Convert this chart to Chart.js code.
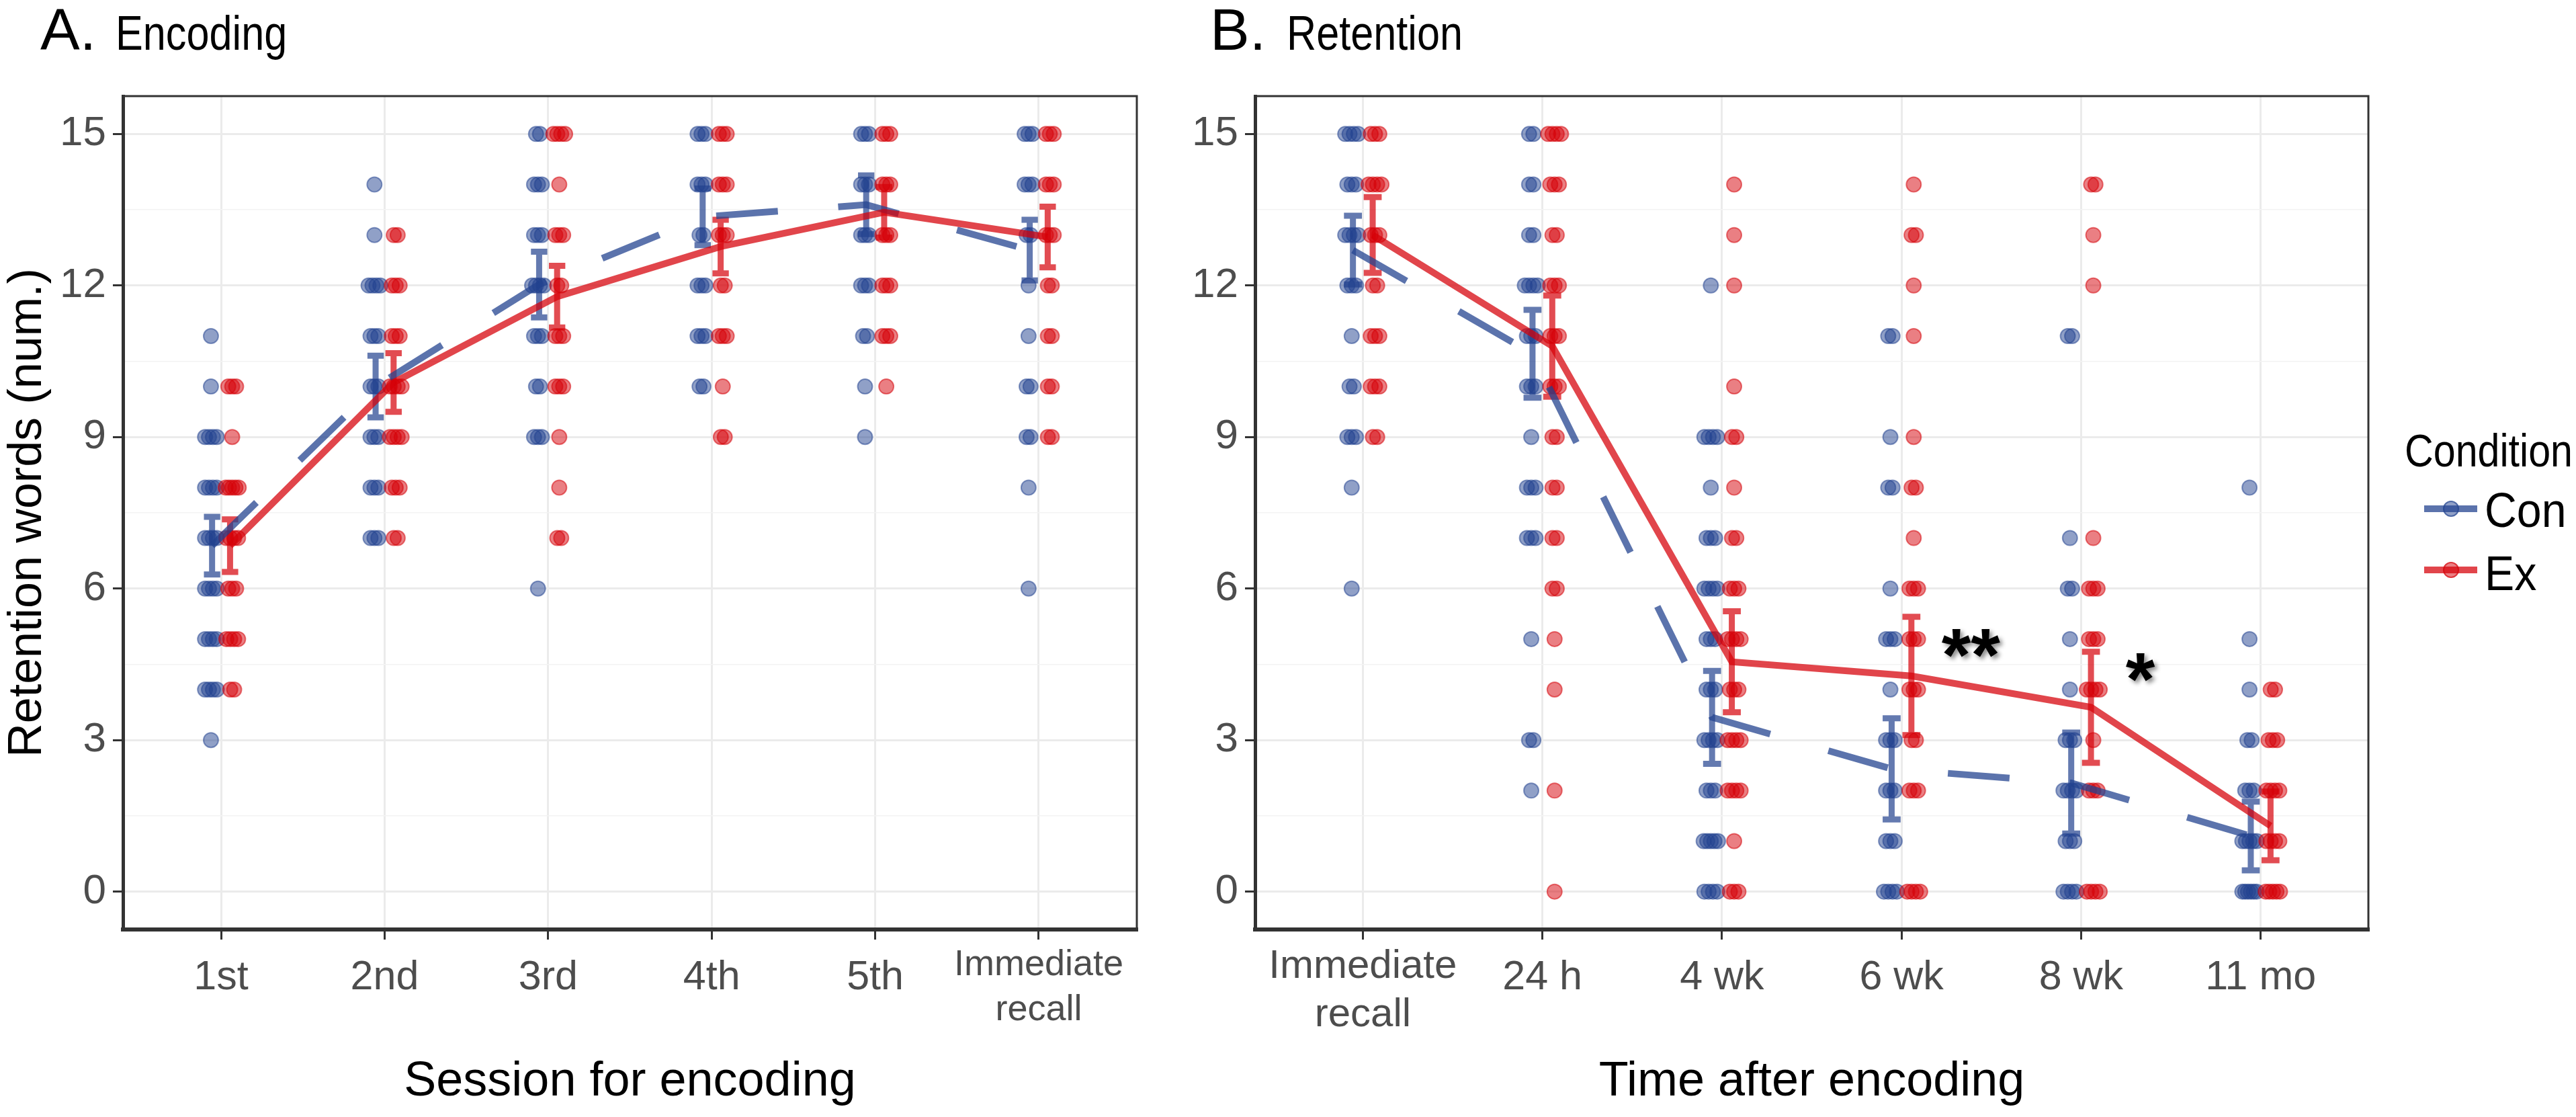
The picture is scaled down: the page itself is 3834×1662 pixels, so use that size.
<!DOCTYPE html>
<html>
<head>
<meta charset="utf-8">
<script src="https://cdn.jsdelivr.net/npm/chart.js@4.4.1/dist/chart.umd.min.js"></script>
<style>
html,body{margin:0;padding:0;background:#fff;}
body{width:3834px;height:1662px;position:relative;overflow:hidden;font-family:'Liberation Sans',Arial,Helvetica,sans-serif;}
canvas{position:absolute;top:0;}
.t{position:absolute;line-height:1;white-space:nowrap;color:#000;transform-origin:0 0;}
.key{position:absolute;}
</style>
</head>
<body>
<canvas id="cA" width="1760" height="1662" style="left:0px"></canvas>
<canvas id="cB" width="2074" height="1662" style="left:1760px"></canvas>

<div class="t" style="left:60px;top:0px;font-size:88px">A.</div>
<div class="t" style="left:172px;top:13px;font-size:72px;transform:scaleX(0.85)">Encoding</div>
<div class="t" style="left:1801px;top:0px;font-size:88px">B.</div>
<div class="t" style="left:1915px;top:13px;font-size:72px;transform:scaleX(0.85)">Retention</div>

<div class="t" style="left:3579px;top:636px;font-size:68px;transform:scaleX(0.87)">Condition</div>
<div class="key" style="left:3608px;top:752px;width:79px;height:10px;background:rgba(34,66,143,0.74)"></div>
<div class="key" style="left:3636px;top:745px;width:20px;height:20px;border-radius:50%;background:rgba(34,66,143,0.5);border:2px solid rgba(34,66,143,0.6)"></div>
<div class="t" style="left:3698px;top:723px;font-size:72px;transform:scaleX(0.92)">Con</div>
<div class="key" style="left:3608px;top:843px;width:79px;height:10px;background:rgba(214,0,8,0.73)"></div>
<div class="key" style="left:3636px;top:836px;width:20px;height:20px;border-radius:50%;background:rgba(214,0,8,0.5);border:2px solid rgba(214,0,8,0.6)"></div>
<div class="t" style="left:3698px;top:817px;font-size:72px;transform:scaleX(0.92)">Ex</div>

<script>
// ---------------- DATA ----------------
const encodingLabels = ['1st', '2nd', '3rd', '4th', '5th', ['Immediate', 'recall']];
const retentionLabels = [['Immediate', 'recall'], '24 h', '4 wk', '6 wk', '8 wk', '11 mo'];
const yTickValues = [0, 1.5, 3, 4.5, 6, 7.5, 9, 10.5, 12, 13.5, 15];

// individual scores (number of words), one list per category
const encodingCon = [
  [11,10,9,9,9,9,8,8,8,8,7,7,7,7,6,6,6,6,5,5,5,5,4,4,4,4,3],
  [14,13,12,12,12,12,11,11,11,10,10,10,9,9,9,8,8,8,7,7,7],
  [15,15,14,14,14,13,13,13,12,12,12,12,11,11,11,10,10,9,9,9,6],
  [15,15,15,14,14,14,13,13,12,12,12,11,11,11,10,10],
  [15,15,15,14,14,14,13,13,13,12,12,12,11,11,10,9],
  [15,15,15,14,14,14,13,13,12,11,10,10,9,9,8,6]
];
const encodingEx = [
  [10,10,10,9,8,8,8,8,8,7,7,7,7,6,6,6,5,5,5,5,4,4],
  [13,13,12,12,12,11,11,11,10,10,10,10,9,9,9,9,8,8,8,7,7],
  [15,15,15,15,14,13,13,13,12,12,11,11,11,10,10,10,9,8,7,7],
  [15,15,15,14,14,14,13,13,13,12,12,11,11,11,10,9,9],
  [15,15,15,14,14,14,13,13,13,12,12,12,11,11,11,10],
  [15,15,15,14,14,14,13,13,13,12,12,11,11,10,10,9,9]
];
const retentionCon = [
  [15,15,15,15,14,14,14,13,13,13,13,12,12,12,11,10,10,9,9,9,8,6],
  [15,15,14,14,13,13,12,12,12,12,11,11,11,10,10,10,9,8,8,8,7,7,7,5,3,3,2],
  [12,9,9,9,9,8,7,7,7,6,6,6,6,5,5,5,4,4,4,3,3,3,3,2,2,2,1,1,1,1,1,0,0,0,0],
  [11,11,9,8,8,6,5,5,5,4,3,3,3,2,2,2,1,1,1,0,0,0,0],
  [11,11,7,6,6,5,4,3,3,3,2,2,2,2,1,1,1,0,0,0,0],
  [8,5,4,3,3,2,2,2,1,1,1,1,1,0,0,0,0,0,0]
];
const retentionEx = [
  [15,15,15,14,14,14,14,13,13,13,12,12,11,11,11,10,10,10,9,9],
  [15,15,15,15,14,14,14,13,13,12,12,12,11,11,11,10,10,10,9,9,8,8,7,7,6,6,5,4,2,0],
  [14,13,12,10,9,9,8,7,7,6,6,6,5,5,5,5,4,4,4,3,3,3,3,2,2,2,2,1,0,0,0],
  [14,13,13,12,11,9,8,8,7,6,6,6,5,5,5,4,4,4,3,3,2,2,2,0,0,0,0],
  [14,14,13,12,7,6,6,6,5,5,5,4,4,4,4,3,2,2,2,0,0,0,0],
  [4,4,3,3,3,2,2,2,2,1,1,1,1,0,0,0,0,0]
];

// group means and standard errors
const encodingConMean = [6.85, 10.0, 12.02, 13.36, 13.6, 12.7];
const encodingConSE   = [0.57, 0.61, 0.65, 0.56, 0.58, 0.6];
const encodingExMean  = [6.85, 10.08, 11.78, 12.77, 13.45, 12.96];
const encodingExSE    = [0.52, 0.58, 0.61, 0.53, 0.5, 0.6];
const retentionConMean = [12.7, 10.65, 3.45, 2.43, 2.15, 1.1];
const retentionConSE   = [0.68, 0.87, 0.92, 1.0, 1.0, 0.68];
const retentionExMean  = [13.0, 10.8, 4.55, 4.27, 3.65, 1.3];
const retentionExSE    = [0.75, 1.0, 1.0, 1.17, 1.1, 0.68];

// significance marks (panel B)
const sigText = ['**', '*'];
const sigCategory = [3, 4];
const sigValue = [5.02, 4.55];

// ---------------- STYLE ----------------
const FONT = "'Liberation Sans', Arial, Helvetica, sans-serif";
const CON = [34, 66, 143], EX = [214, 0, 8];
const rgba = (c, a) => `rgba(${c[0]},${c[1]},${c[2]},${a})`;
const DODGE = 0.055, CAP = 0.05, CON_CENTER = -0.062, EX_CENTER = 0.068;
const SIG_SHIFT = [0.386, 0.33];

function jitter(lists, center) {
  const pts = [];
  lists.forEach((vals, ci) => {
    const counts = {};
    vals.forEach(v => { counts[v] = (counts[v] || 0) + 1; });
    Object.keys(counts).forEach(k => {
      const n = counts[k], v = +k;
      const spread = Math.min(0.08, 0.024 * (n - 1));
      for (let i = 0; i < n; i++) {
        const off = n === 1 ? 0 : -spread / 2 + i * spread / (n - 1);
        pts.push({ x: ci + center + off, y: v });
      }
    });
  });
  return pts;
}
function errorBars(means, ses, dx, w) {
  const d = [];
  means.forEach((m, i) => {
    const x = i + dx, lo = m - ses[i], hi = m + ses[i];
    d.push({x, y: lo}, {x, y: hi}, {x, y: null},
           {x: x - w, y: hi}, {x: x + w, y: hi}, {x, y: null},
           {x: x - w, y: lo}, {x: x + w, y: lo}, {x, y: null});
  });
  return d;
}
const meanLine = (means, dx) => means.map((m, i) => ({ x: i + dx, y: m }));

const borderPlugin = {
  id: 'panelBorder',
  afterDatasetsDraw(chart) {
    const { ctx, chartArea: a } = chart;
    ctx.save();
    ctx.strokeStyle = '#333';
    ctx.lineWidth = 3;
    ctx.strokeRect(a.left, a.top, a.right - a.left, a.bottom - a.top);
    ctx.restore();
  }
};
const sigPlugin = {
  id: 'sigMarks',
  afterDatasetsDraw(chart) {
    const { ctx, scales } = chart;
    const size = 112;
    ctx.save();
    ctx.font = `bold ${size}px ${FONT}`;
    ctx.fillStyle = '#000';
    ctx.textAlign = 'center';
    ctx.textBaseline = 'alphabetic';
    ctx.shadowColor = 'rgba(0,0,0,0.45)';
    ctx.shadowBlur = 6;
    ctx.shadowOffsetX = 4;
    ctx.shadowOffsetY = 4;
    sigText.forEach((t, i) => {
      const px = scales.x.getPixelForValue(sigCategory[i] + SIG_SHIFT[i]);
      const py = scales.y.getPixelForValue(sigValue[i]) + 0.57 * size;
      ctx.fillText(t, px, py);
    });
    ctx.restore();
  }
};

function makePanel(canvasId, labels, con, ex, conMean, conSE, exMean, exSE, o) {
  const datasets = [
    { data: meanLine(exMean, DODGE), borderColor: rgba(EX, 0.73), borderWidth: 10, pointRadius: 0,
      fill: false, tension: 0, borderCapStyle: 'butt', order: 1 },
    { data: meanLine(conMean, -DODGE), borderColor: rgba(CON, 0.74), borderWidth: 10, pointRadius: 0,
      borderDash: [92, 90], fill: false, tension: 0, borderCapStyle: 'butt', order: 2 },
    { data: errorBars(exMean, exSE, DODGE, CAP), borderColor: rgba(EX, 0.7), borderWidth: 9, pointRadius: 0,
      spanGaps: false, fill: false, borderCapStyle: 'butt', order: 3 },
    { data: errorBars(conMean, conSE, -DODGE, CAP), borderColor: rgba(CON, 0.7), borderWidth: 9, pointRadius: 0,
      spanGaps: false, fill: false, borderCapStyle: 'butt', order: 4 },
    { data: jitter(ex, EX_CENTER), showLine: false, pointRadius: 11, pointBorderWidth: 2,
      pointBackgroundColor: rgba(EX, 0.5), pointBorderColor: rgba(EX, 0.5), order: 5 },
    { data: jitter(con, CON_CENTER), showLine: false, pointRadius: 11, pointBorderWidth: 2,
      pointBackgroundColor: rgba(CON, 0.5), pointBorderColor: rgba(CON, 0.5), order: 6 }
  ];
  return new Chart(document.getElementById(canvasId), {
    type: 'line',
    data: { datasets },
    plugins: o.plugins,
    options: {
      responsive: false, animation: false, devicePixelRatio: 1, events: [],
      layout: { padding: { top: 143, left: 0, bottom: 0, right: o.padRight } },
      plugins: { legend: { display: false }, tooltip: { enabled: false }, title: { display: false } },
      scales: {
        x: {
          type: 'linear', min: -0.6, max: 5.6,
          afterBuildTicks: s => { s.ticks = labels.map((_, i) => ({ value: i })); },
          afterFit: s => { s.height = 279; },
          grid: { color: '#EBEBEB', lineWidth: 3, drawTicks: true, tickLength: 15, tickColor: '#333', tickWidth: 3 },
          border: { display: true, color: '#333', width: 6 },
          ticks: {
            autoSkip: false, maxRotation: 0, minRotation: 0, padding: 4, color: '#4D4D4D',
            font: c => {
              const multi = Array.isArray(labels[c.index]);
              return multi ? { family: FONT, size: o.multiSize, lineHeight: o.multiLH }
                           : { family: FONT, size: 61, lineHeight: 1.74 };
            },
            callback: v => labels[v]
          },
          title: { display: true, text: o.xTitle, color: '#000',
                   font: { family: FONT, size: 72, lineHeight: 1.2 }, padding: { top: 0, bottom: 9 } }
        },
        y: {
          type: 'linear', min: -0.75, max: 15.75,
          afterBuildTicks: s => { s.ticks = yTickValues.map(v => ({ value: v })); },
          afterFit: s => { s.width = o.yWidth; },
          grid: {
            color: c => (c.tick && c.tick.value % 3 === 0) ? '#EBEBEB' : '#F3F3F3',
            lineWidth: c => (c.tick && c.tick.value % 3 === 0) ? 3 : 1.5,
            drawTicks: true, tickLength: 15, tickWidth: 3,
            tickColor: c => (c.tick && c.tick.value % 3 === 0) ? '#333' : 'rgba(0,0,0,0)'
          },
          border: { display: true, color: '#333', width: 5 },
          ticks: { padding: 10, color: '#4D4D4D', font: { family: FONT, size: 62 },
                   callback: v => (v % 3 === 0 ? String(v) : '') },
          title: { display: o.yTitle !== '', text: o.yTitle, color: '#000',
                   font: { family: FONT, size: 70, lineHeight: 1.2 }, padding: 0 }
        }
      }
    }
  });
}

makePanel('cA', encodingLabels, encodingCon, encodingEx,
  encodingConMean, encodingConSE, encodingExMean, encodingExSE,
  { padRight: 68, yWidth: 183, xTitle: 'Session for encoding', yTitle: 'Retention words (num.)',
    multiSize: 54, multiLH: 1.25, plugins: [borderPlugin] });

makePanel('cB', retentionLabels, retentionCon, retentionEx,
  retentionConMean, retentionConSE, retentionExMean, retentionExSE,
  { padRight: 309, yWidth: 108, xTitle: 'Time after encoding', yTitle: '',
    multiSize: 60, multiLH: 1.2, plugins: [borderPlugin, sigPlugin] });
</script>
</body>
</html>
